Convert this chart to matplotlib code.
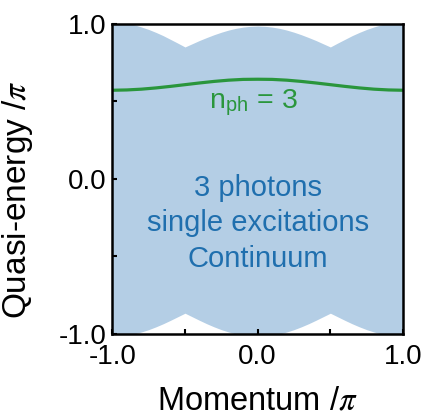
import matplotlib
matplotlib.use("Agg")
import matplotlib.pyplot as plt
import numpy as np

plt.rcParams['font.family'] = ['Liberation Sans', 'DejaVu Sans']
plt.rcParams['mathtext.fontset'] = 'stix'

# Momentum grid (units of pi)
momentum = [-1.00, -0.95, -0.90, -0.85, -0.80, -0.75, -0.70, -0.65, -0.60, -0.55,
            -0.50, -0.45, -0.40, -0.35, -0.30, -0.25, -0.20, -0.15, -0.10, -0.05,
            0.00, 0.05, 0.10, 0.15, 0.20, 0.25, 0.30, 0.35, 0.40, 0.45,
            0.50, 0.55, 0.60, 0.65, 0.70, 0.75, 0.80, 0.85, 0.90, 0.95, 1.00]

# Continuum upper edge (quasi-energy / pi)
continuum_upper = [1.010, 1.008, 1.002, 0.993, 0.979, 0.963, 0.944, 0.923, 0.899, 0.875,
                   0.850, 0.871, 0.892, 0.911, 0.929, 0.945, 0.959, 0.970, 0.978, 0.983,
                   0.985, 0.983, 0.978, 0.970, 0.959, 0.945, 0.929, 0.911, 0.892, 0.871,
                   0.850, 0.875, 0.899, 0.923, 0.944, 0.963, 0.979, 0.993, 1.002, 1.008, 1.010]

# Continuum lower edge (quasi-energy / pi)
continuum_lower = [-1.016, -1.014, -1.009, -1.000, -0.987, -0.972, -0.954, -0.934, -0.912, -0.889,
                   -0.866, -0.889, -0.912, -0.934, -0.954, -0.972, -0.987, -1.000, -1.009, -1.014,
                   -1.016, -1.014, -1.009, -1.000, -0.987, -0.972, -0.954, -0.934, -0.912, -0.889,
                   -0.866, -0.889, -0.912, -0.934, -0.954, -0.972, -0.987, -1.000, -1.009, -1.014, -1.016]

# Bound state n_ph = 3
bound_k = [-1.0, -0.9, -0.8, -0.7, -0.6, -0.5, -0.4, -0.3, -0.2, -0.1,
           0.0, 0.1, 0.2, 0.3, 0.4, 0.5, 0.6, 0.7, 0.8, 0.9, 1.0]
bound_e = [0.571, 0.573, 0.578, 0.586, 0.596, 0.607, 0.618, 0.628, 0.636, 0.641,
           0.642, 0.641, 0.636, 0.628, 0.618, 0.607, 0.596, 0.586, 0.578, 0.573, 0.571]

tick_vals = [-1.0, -0.5, 0.0, 0.5, 1.0]
tick_labels = ['-1.0', '', '0.0', '', '1.0']

band_color = '#b4cee5'
green = '#2a963c'
text_blue = '#1f6fae'

fig = plt.figure(figsize=(4.33, 4.15), dpi=100)
ax = fig.add_axes([0.2594, 0.1952, 0.6714, 0.7477])

ax.fill_between(momentum, continuum_lower, continuum_upper, color=band_color, lw=0)
ax.plot(bound_k, bound_e, color=green, lw=2.3, solid_capstyle='butt')

ax.set_xlim(-1, 1)
ax.set_ylim(-1, 1)
ax.set_xticks(tick_vals)
ax.set_xticklabels(tick_labels)
ax.set_yticks(tick_vals)
ax.set_yticklabels(tick_labels)
ax.tick_params(direction='in', length=3.5, width=1.5, labelsize=20, colors='black')
ax.tick_params(axis='x', pad=7)
ax.tick_params(axis='y', pad=4)
for s in ax.spines.values():
    s.set_linewidth(1.8)

ax.set_xlabel(r'Momentum /$\pi$', fontsize=23.5)
ax.set_ylabel(r'Quasi-energy /$\pi$', fontsize=24)
ax.xaxis.set_label_coords(0.5, -0.165)
ax.yaxis.set_label_coords(-0.265, 0.432)

ax.text(-0.03, 0.455, r'n$_{\mathregular{ph}}$ = 3', color=green, fontsize=20.5,
        ha='center', va='baseline')
ax.text(0.0, -0.06, '3 photons', color=text_blue, fontsize=21, ha='center', va='center')
ax.text(0.0, -0.285, 'single excitations', color=text_blue, fontsize=21, ha='center', va='center')
ax.text(0.0, -0.515, 'Continuum', color=text_blue, fontsize=21, ha='center', va='center')

fig.savefig('out.png', dpi=100)
